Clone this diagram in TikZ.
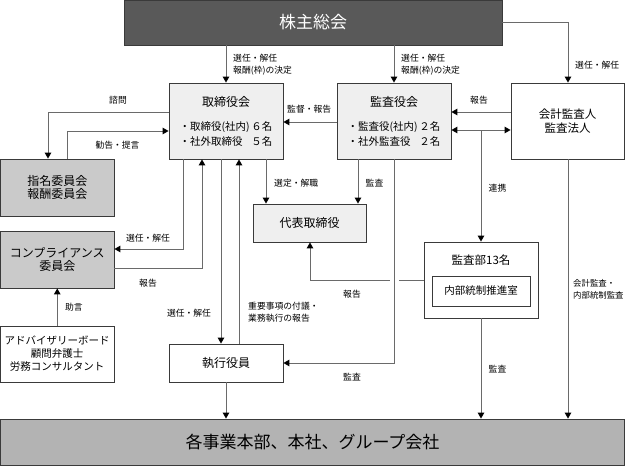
\documentclass[tikz,border=0pt]{standalone}
\usepackage{fontspec}
\setmainfont{Noto Sans CJK JP}
\usetikzlibrary{arrows.meta}
\definecolor{topcol}{HTML}{595959}
\definecolor{lightcol}{HTML}{EFEFEF}
\definecolor{midcol}{HTML}{CACACA}
\definecolor{botcol}{HTML}{B3B3B3}
\definecolor{bordcol}{HTML}{3A3A3A}
\definecolor{linecol}{HTML}{6A6A6A}
\begin{document}
\begin{tikzpicture}[x=1pt,y=-1pt,
  box/.style={draw=bordcol, line width=0.8pt, inner sep=0pt, align=center, minimum width=114pt},
  lab/.style={font=\fontsize{8.8}{12}\selectfont, inner sep=0pt, align=left},
  arr/.style={draw=linecol, line width=0.9pt, -{Triangle[length=6pt,width=6.5pt,color=black]}},
  darr/.style={draw=linecol, line width=0.9pt, {Triangle[length=6pt,width=6.5pt,color=black]}-{Triangle[length=6pt,width=6.5pt,color=black]}},
  ln/.style={draw=linecol, line width=0.9pt}
]
\useasboundingbox (0,0) rectangle (625,466);

% boxes
\node[box, minimum width=378pt, minimum height=45pt, fill=topcol, text=white,
      font=\fontsize{17}{20}\selectfont] (top) at (313,22.5) {株主総会};
\node[box, minimum height=76pt, fill=lightcol, font=\fontsize{10.5}{15}\selectfont] (tor) at (226,121)
  {{\fontsize{12}{14}\selectfont 取締役会}\\[9pt]\makebox[93pt]{・取締役(社内)\hfill ６名}\\\makebox[93pt]{・社外取締役\hfill ５名}};
\node[box, minimum height=76pt, fill=lightcol, font=\fontsize{10.5}{15}\selectfont] (kan) at (394,121)
  {{\fontsize{12}{14}\selectfont 監査役会}\\[9pt]\makebox[93pt]{・監査役(社内)\hfill ２名}\\\makebox[93pt]{・社外監査役\hfill ２名}};
\node[box, minimum width=113pt, minimum height=76pt, fill=white, font=\fontsize{11.5}{14}\selectfont] (kai) at (567.5,121)
  {会計監査人\\監査法人};
\node[box, minimum width=113.5pt, minimum height=57pt, fill=midcol, font=\fontsize{12}{13.5}\selectfont] (shimei) at (57.25,187.5)
  {指名委員会\\報酬委員会};
\node[box, minimum width=113.5pt, minimum height=57pt, fill=midcol, font=\fontsize{12}{13.5}\selectfont] (comp) at (57.25,259.5)
  {コンプライアンス\\委員会};
\node[box, minimum width=113.5pt, minimum height=56pt, fill=white, font=\fontsize{10.5}{13}\selectfont] (adv) at (57.25,354)
  {アドバイザリーボード\\顧問弁護士\\労務コンサルタント};
\node[box, minimum width=113pt, minimum height=38pt, fill=lightcol, font=\fontsize{12}{14}\selectfont] (daihyo) at (309.5,223)
  {代表取締役};
\node[box, minimum height=76pt, fill=white] (kansabu) at (481,280) {};
\node[font=\fontsize{11.5}{14}\selectfont, inner sep=0pt] (kbt) at (481,260) {監査部13名};
\node[box, minimum width=98pt, minimum height=30pt, fill=white, font=\fontsize{10.5}{13}\selectfont] (naibu) at (481,291)
  {内部統制推進室};
\node[box, minimum height=38pt, fill=white, font=\fontsize{12}{14}\selectfont] (shikko) at (226,363)
  {執行役員};
\node[box, minimum width=624.2pt, minimum height=46.6pt, fill=botcol, font=\fontsize{17}{20}\selectfont] (bot) at (312.5,442.3)
  {各事業本部、本社、グループ会社};

% connectors
\draw[arr] (top.south -| tor.north) -- (tor.north);
\draw[arr] (top.south -| kan.north) -- (kan.north);
\draw[arr] (top.east) -| (kai.north -| 568,0);
\draw[arr] (kan.west |- 0,122) -- (tor.east |- 0,122);
\draw[arr] (kai.west |- 0,112) -- (kan.east |- 0,112);
\draw[darr] (kan.east |- 0,130) -- (kai.west |- 0,130);
\draw[arr] (kansabu.north |- 0,130) -- (kansabu.north);
\draw[arr] (tor.west |- 0,112) -| (shimei.north -| 48,0);
\draw[arr] (shimei.north -| 67,0) |- (tor.west |- 0,131);
\draw[arr] (tor.south -| 183,0) |- (comp.east |- 0,249);
\draw[arr] (comp.east |- 0,268) -| (tor.south -| 202,0);
\draw[arr] (adv.north) -- (comp.south);
\draw[arr] (tor.south -| 221,0) -- (shikko.north -| 221,0);
\draw[arr] (shikko.north -| 239,0) -- (tor.south -| 239,0);
\draw[arr] (tor.south -| 266,0) -- (daihyo.north -| 266,0);
\draw[arr] (kan.south -| 358,0) -- (daihyo.north -| 358,0);
\draw[arr] (kansabu.west |- 0,280) -| (daihyo.south -| 310,0);
\draw[draw=white, line width=2.5pt] (kan.south |- 0,280) ++(-4.5,0) -- ++(9,0);
\draw[arr] (kan.south) |- (shikko.east |- 0,363);
\draw[arr] (shikko.south) -- (bot.north -| shikko.south);
\draw[arr] (kansabu.south) -- (bot.north -| kansabu.south);
\draw[arr] (kai.south -| 568,0) -- (bot.north -| 568,0);

% labels
\node[lab, anchor=west] (l1) at (233,64.5) {選任・解任\\報酬(枠)の決定};
\node[lab, anchor=west] (l2) at (401,64.5) {選任・解任\\報酬(枠)の決定};
\node[lab, anchor=west] (l3) at (575,65) {選任・解任};
\node[lab, anchor=west] (l4) at (287,109) {監督・報告};
\node[lab] (l5) at (479,100) {報告};
\node[lab] (l6) at (118,100) {諮問};
\node[lab] (l7) at (117.5,145) {勧告・提言};
\node[lab] (l8) at (497.5,188) {連携};
\node[lab, anchor=west] (l9) at (274,183) {選定・解職};
\node[lab] (l10) at (374.5,183) {監査};
\node[lab] (l11) at (148,238) {選任・解任};
\node[lab] (l12) at (148,283) {報告};
\node[lab] (l13) at (352,294) {報告};
\node[lab, anchor=west, font=\fontsize{8.4}{12}\selectfont] (l14) at (573,289) {会計監査・\\内部統制監査};
\node[lab] (l15) at (74,307) {助言};
\node[lab] (l16) at (189,313) {選任・解任};
\node[lab, anchor=west] (l17) at (248,312.5) {重要事項の付議・\\業務執行の報告};
\node[lab] (l18) at (352,377) {監査};
\node[lab] (l19) at (497.5,369) {監査};
\end{tikzpicture}
\end{document}
